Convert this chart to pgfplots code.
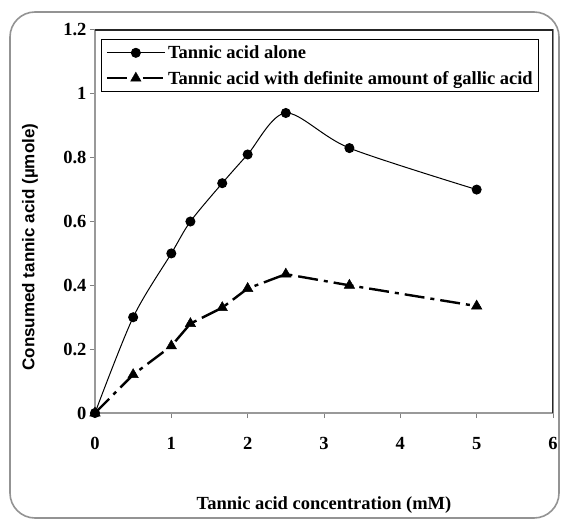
\documentclass[border=0pt]{standalone}
\usepackage{fontspec}
\setmainfont{Liberation Serif}
\newfontfamily\labelsans{Liberation Sans}
\usepackage{pgfplots}
\pgfplotsset{compat=1.18}

\begin{document}
\begin{tikzpicture}
\begin{axis}[
    width=458pt, height=383pt,
    scale only axis,
    xmin=0, xmax=6, ymin=0, ymax=1.2,
    xtick={0,1,2,3,4,5,6},
    ytick={0,0.2,0.4,0.6,0.8,1,1.2},
    yticklabels={0,0.2,0.4,0.6,0.8,1,1.2},
    xtick pos=bottom, ytick pos=left,
    tick align=outside,
    major tick length=5pt,
    tick style={gray, line width=1pt},
    axis line style={gray!80, line width=1.3pt},
    /pgf/number format/assume math mode=true,
    ticklabel style={font=\fontsize{18.5}{21}\selectfont\bfseries},
    xticklabel style={yshift=-16pt},
    xlabel={Tannic acid concentration (mM)},
    ylabel={Consumed tannic acid (µmole)},
    xlabel style={font=\fontsize{18.5}{21}\selectfont\bfseries,
        at={([yshift=-92pt]axis description cs:0.5,0)}, anchor=center},
    ylabel style={font=\labelsans\fontsize{17}{19}\selectfont\bfseries,
        at={([xshift=-65pt]axis description cs:0,0.433)}, anchor=center},
    legend style={at={(axis description cs:0,1)}, anchor=north west,
        xshift=6pt, yshift=-9pt, draw=black, line width=1.3pt,
        font=\fontsize{18.5}{21}\selectfont\bfseries,
        row sep=7pt, inner sep=4pt, cells={anchor=west}},
    legend image code/.code={
        \draw[mark repeat=2, mark phase=2, #1]
            plot coordinates {(0pt,0pt) (29pt,0pt) (58pt,0pt)};},
]
\coordinate (O) at (rel axis cs:0,0);
\draw[black!85, line width=1.3pt] (rel axis cs:0,1) -- (rel axis cs:1,1) -- (rel axis cs:1,0);

\addplot[black, line width=1pt, smooth, tension=0.5,
    mark=*, mark size=4.5pt, mark options={solid, fill=black}]
    coordinates {
    (0,0) (0.5,0.30) (1,0.50) (1.25,0.60) (1.667,0.72)
    (2,0.81) (2.5,0.94) (3.333,0.83) (5,0.70)
};
\addlegendentry{Tannic acid alone}

\addplot[black, line width=2.4pt, dash pattern=on 20pt off 6pt on 4pt off 6pt,
    mark=triangle*, mark size=6pt, mark options={solid, fill=black, line width=0.5pt}]
    coordinates {
    (0,0) (0.5,0.12) (1,0.21) (1.25,0.28) (1.667,0.33)
    (2,0.39) (2.5,0.435) (3.333,0.40) (5,0.335)
};
\addlegendentry{Tannic acid with definite amount of gallic acid}
\end{axis}
\draw[gray!85, line width=1.6pt, rounded corners=25pt]
    ([shift={(-85pt,-105pt)}]O) rectangle ([shift={(464pt,401pt)}]O);
\pgfresetboundingbox
\useasboundingbox ([shift={(-95pt,-109pt)}]O) rectangle ([shift={(466pt,413pt)}]O);
\end{tikzpicture}
\end{document}
